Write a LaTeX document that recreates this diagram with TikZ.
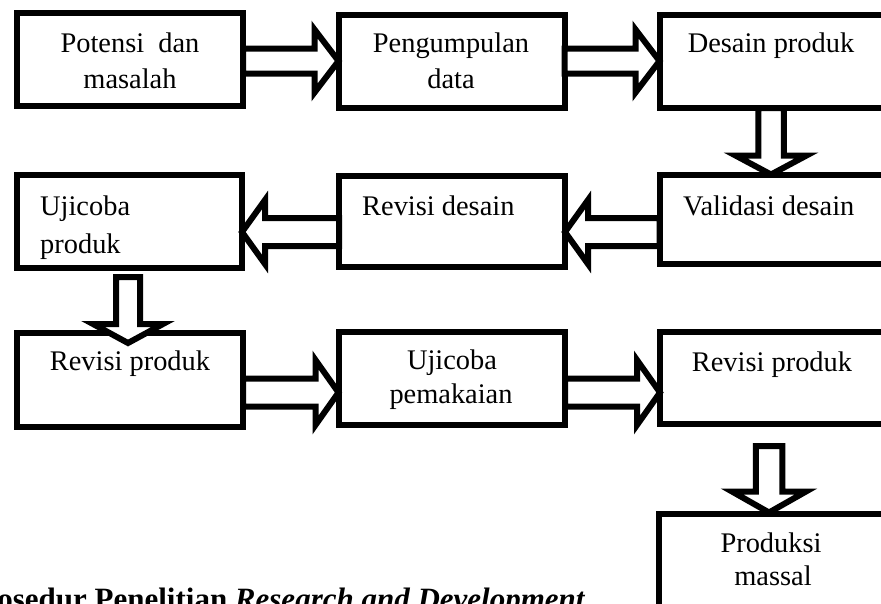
\documentclass[tikz,border=0pt]{standalone}
\usepackage{fontspec}
\setmainfont{Liberation Serif}
\usetikzlibrary{calc}

% Block arrows: tail, tip, shaft half-width, head half-width, head length
\newcommand{\arrowR}[5]{%
  \draw[blockarrow] let \p1=#1, \p2=#2 in
    (\x1,\y2+#3) -- (\x2-#5,\y2+#3) -- (\x2-#5,\y2+#4) -- (\x2,\y2)
    -- (\x2-#5,\y2-#4) -- (\x2-#5,\y2-#3) -- (\x1,\y2-#3) -- cycle;}
\newcommand{\arrowL}[5]{%
  \draw[blockarrow] let \p1=#1, \p2=#2 in
    (\x1,\y2+#3) -- (\x2+#5,\y2+#3) -- (\x2+#5,\y2+#4) -- (\x2,\y2)
    -- (\x2+#5,\y2-#4) -- (\x2+#5,\y2-#3) -- (\x1,\y2-#3) -- cycle;}
\newcommand{\arrowD}[5]{%
  \draw[blockarrow] let \p1=#1, \p2=#2 in
    (\x1-#3,\y1) -- (\x1-#3,\y2+#5) -- (\x1-#4,\y2+#5) -- (\x1,\y2)
    -- (\x1+#4,\y2+#5) -- (\x1+#3,\y2+#5) -- (\x1+#3,\y1) -- cycle;}

\begin{document}
\begin{tikzpicture}[x=1pt,y=-1pt,
  stagebox/.style={draw=black, line width=6pt, fill=white, inner sep=0pt,
    outer sep=0pt, rectangle},
  blockarrow/.style={draw=black, fill=white, line width=6pt, line join=miter},
  lbl/.style={font=\fontsize{28.4}{34}\selectfont, inner sep=0pt, anchor=base},
  lblw/.style={lbl, anchor=base west},
  caption/.style={font=\bfseries\fontsize{31}{36}\selectfont, inner sep=0pt,
    anchor=base west}]
\useasboundingbox (0,0) rectangle (881,603);
\fill[white] (0,0) rectangle (881,603);
\clip (0,0) rectangle (881,603);

% stage boxes
\node[stagebox, minimum width=226.5pt, minimum height=93pt]   (b1) at (129.75,59)   {};
\node[stagebox, minimum width=226pt,   minimum height=93pt]   (b2) at (451.5,61.5)  {};
\node[stagebox, minimum width=225.5pt, minimum height=93pt]   (b3) at (772.25,61.5) {};
\node[stagebox, minimum width=225.5pt, minimum height=93pt]   (c1) at (129.25,221.5){};
\node[stagebox, minimum width=226pt,   minimum height=91.5pt] (c2) at (452,221.25)  {};
\node[stagebox, minimum width=225.5pt, minimum height=89pt]   (c3) at (772.25,219)  {};
\node[stagebox, minimum width=226.5pt, minimum height=94.5pt] (d1) at (129.75,379.75){};
\node[stagebox, minimum width=226.5pt, minimum height=93.5pt] (d2) at (451.75,378.25){};
\node[stagebox, minimum width=225pt,   minimum height=92pt]   (d3) at (772.5,377.5) {};
\node[stagebox, minimum width=226.5pt, minimum height=106.5pt](e1) at (771.75,566.75){};

% labels
\node[lbl]  (t1a) at (130,52)  {Potensi\ \ dan};
\node[lbl]  (t1b) at (130,88)  {masalah};
\node[lbl]  (t2a) at (451,52)  {Pengumpulan};
\node[lbl]  (t2b) at (451,88)  {data};
\node[lbl]  (t3)  at (771,52)  {Desain produk};
\node[lblw] (u1a) at (40,215)  {Ujicoba};
\node[lblw] (u1b) at (40,253)  {produk};
\node[lblw] (u2)  at (362,215) {Revisi desain};
\node[lblw] (u3)  at (683,215) {Validasi desain};
\node[lbl]  (r1)  at (130,370) {Revisi produk};
\node[lbl]  (r2a) at (452,369) {Ujicoba};
\node[lbl]  (r2b) at (451,403) {pemakaian};
\node[lbl]  (r3)  at (772,371) {Revisi produk};
\node[lbl]  (p1a) at (771,552) {Produksi};
\node[lbl]  (p1b) at (773,585) {massal};

% flow arrows
\arrowR{(b1.east |- 0,61)}{(b2.west |- 0,61)}{12.5}{31.5}{24}
\arrowR{(b2.east |- 0,61)}{(b3.west |- 0,61)}{12.5}{31.5}{24}
\arrowD{(b3.south -| 771,0)}{(c3.north -| 771,0)}{12.75}{35.5}{19}
\arrowL{(c3.west |- 0,232)}{(c2.east |- 0,232)}{14}{32}{23}
\arrowL{(c2.west |- 0,232)}{(c1.east |- 0,232)}{14}{32}{23}
\coordinate (c1tail) at ($(c1.south)+(-1.25,9)$);
\arrowD{(c1tail)}{($(d1.north)+(0,10.5)$)}{12}{35}{19}
\arrowR{(d1.east |- 0,392.5)}{(d2.west |- 0,392.5)}{14}{32.5}{23}
\arrowR{(d2.east |- 0,392.5)}{(d3.west |- 0,392.5)}{14}{32.5}{23}
\coordinate (d3tail) at ($(d3.south)+(-3.5,22.5)$);
\arrowD{(d3tail)}{($(e1.north)+(0,-1)$)}{13.25}{37}{21}

% caption
\node[caption] (cap) at (-35,609.5) {Prosedur Penelitian \textit{Research and Development}};
\end{tikzpicture}
\end{document}
